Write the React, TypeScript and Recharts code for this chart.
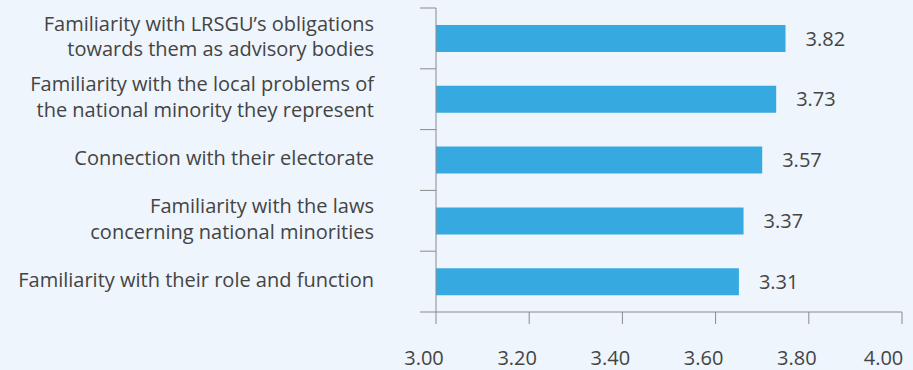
import { BarChart, Bar, XAxis, YAxis, LabelList } from 'recharts';

const categories = [
  'Familiarity with LRSGU’s obligations\ntowards them as advisory bodies',
  'Familiarity with the local problems of\nthe national minority they represent',
  'Connection with their electorate',
  'Familiarity with the laws\nconcerning national minorities',
  'Familiarity with their role and function',
];
// bar lengths as they are drawn in the source figure
const barLengths = [3.75, 3.73, 3.7, 3.66, 3.65];
// values printed next to the bars
const printedValues = ['3.82', '3.73', '3.57', '3.37', '3.31'];
const xTicks = [3.0, 3.2, 3.4, 3.6, 3.8, 4.0];

const data = categories.map((name, i) => ({
  name,
  value: barLengths[i],
  printed: printedValues[i],
}));

const FONT = '"Open Sans", sans-serif';
const AXIS = '#8a8a8a';
const TEXT = '#444444';
const BAR = '#36a9e0';
const BG = '#eef5fc';

// category label plus a tick mark on the band boundary
function CategoryTick({ x, y, payload, index }: any) {
  const lines = String(payload.value).split('\n');
  const half = payload.offset || 30.4;
  const lineH = 25.5;
  const first = -((lines.length - 1) * lineH) / 2;
  const isLast = index === categories.length - 1;
  return (
    <g>
      <line x1={x - 16} x2={x} y1={y - half} y2={y - half} stroke={AXIS} />
      {isLast && <line x1={x - 16} x2={x} y1={y + half} y2={y + half} stroke={AXIS} />}
      <text
        x={x - 62}
        y={y - 2}
        textAnchor="end"
        fontSize={20}
        fontFamily={FONT}
        fill={TEXT}
      >
        {lines.map((l, i) => (
          <tspan key={i} x={x - 62} dy={i === 0 ? first + 7 : lineH}>
            {l}
          </tspan>
        ))}
      </text>
    </g>
  );
}

export default function App() {
  return (
    <div
      style={{
        position: 'absolute',
        left: 0,
        top: 0,
        width: 913,
        height: 370,
        background: BG,
        fontFamily: FONT,
      }}
    >
      <BarChart
        width={913}
        height={370}
        data={data}
        layout="vertical"
        margin={{ top: 8, right: 11, bottom: 0, left: 0 }}
        barSize={27}
      >
        <XAxis
          type="number"
          domain={[3, 4]}
          ticks={xTicks}
          tickFormatter={(v: number) => v.toFixed(2)}
          height={58}
          tickSize={12}
          tickMargin={27}
          stroke={AXIS}
          tick={{ fill: TEXT, fontSize: 20, fontFamily: FONT, dx: -12 }}
          allowDataOverflow
        />
        <YAxis
          type="category"
          dataKey="name"
          width={436}
          interval={0}
          tickSize={0}
          tickMargin={0}
          tickLine={false}
          stroke={AXIS}
          tick={<CategoryTick />}
        />
        <Bar dataKey="value" fill={BAR} isAnimationActive={false}>
          <LabelList
            dataKey="printed"
            position="right"
            offset={20}
            fill={TEXT}
            fontSize={20}
            fontFamily={FONT}
          />
        </Bar>
      </BarChart>
    </div>
  );
}
